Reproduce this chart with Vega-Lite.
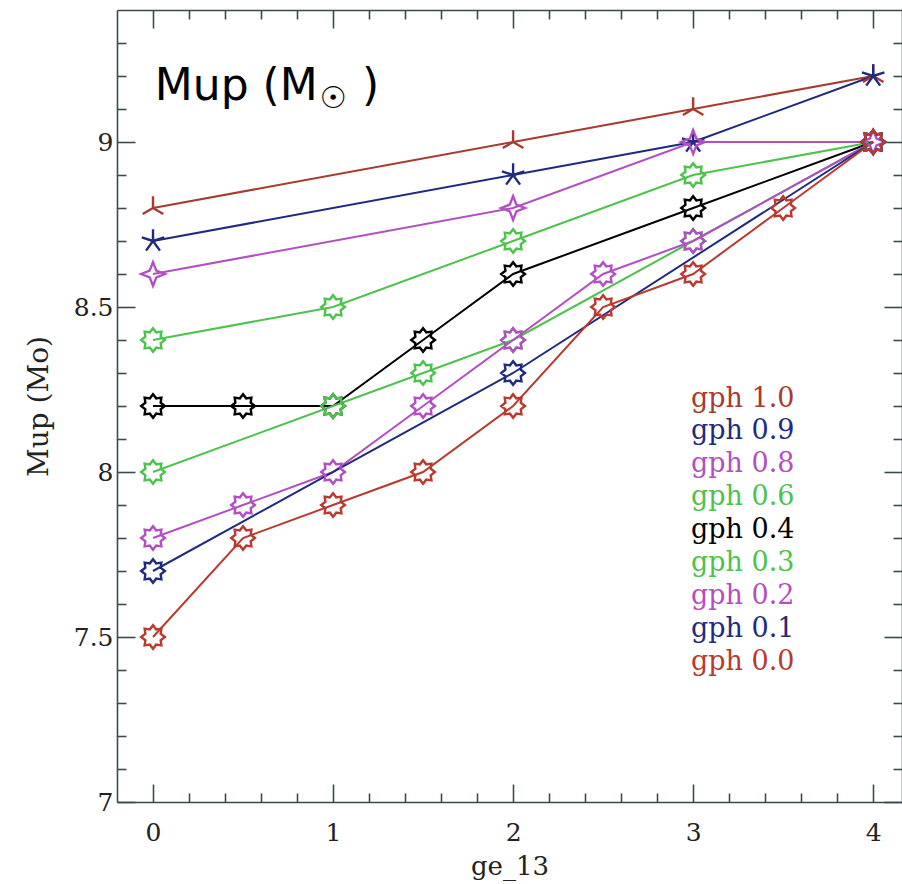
{
  "$schema": "https://vega.github.io/schema/vega-lite/v6.json",
  "width": 785,
  "height": 792,
  "autosize": "none",
  "padding": {"left": 117, "top": 10, "right": 0, "bottom": 82},
  "background": "white",
  "config": {
    "view": {"stroke": null},
    "axis": {
      "domainColor": "#3a4a4f",
      "domainWidth": 1.6,
      "tickColor": "#3a4a4f",
      "tickWidth": 1.6,
      "grid": false,
      "labelFont": "DejaVu Serif",
      "labelFontSize": 25,
      "labelColor": "#222222",
      "titleFont": "DejaVu Serif",
      "titleFontSize": 26,
      "titleFontWeight": "normal",
      "titleColor": "#222222"
    }
  },
  "datasets": {
    "runs": [
      {"gph": "1.0", "ge13": 0, "mup": 8.8},
      {"gph": "1.0", "ge13": 2, "mup": 9.0},
      {"gph": "1.0", "ge13": 3, "mup": 9.1},
      {"gph": "1.0", "ge13": 4, "mup": 9.2},
      {"gph": "0.9", "ge13": 0, "mup": 8.7},
      {"gph": "0.9", "ge13": 2, "mup": 8.9},
      {"gph": "0.9", "ge13": 3, "mup": 9.0},
      {"gph": "0.9", "ge13": 4, "mup": 9.2},
      {"gph": "0.8", "ge13": 0, "mup": 8.6},
      {"gph": "0.8", "ge13": 2, "mup": 8.8},
      {"gph": "0.8", "ge13": 3, "mup": 9.0},
      {"gph": "0.8", "ge13": 4, "mup": 9.0},
      {"gph": "0.6", "ge13": 0, "mup": 8.4},
      {"gph": "0.6", "ge13": 1, "mup": 8.5},
      {"gph": "0.6", "ge13": 2, "mup": 8.7},
      {"gph": "0.6", "ge13": 3, "mup": 8.9},
      {"gph": "0.6", "ge13": 4, "mup": 9.0},
      {"gph": "0.4", "ge13": 0, "mup": 8.2},
      {"gph": "0.4", "ge13": 0.5, "mup": 8.2},
      {"gph": "0.4", "ge13": 1, "mup": 8.2},
      {"gph": "0.4", "ge13": 1.5, "mup": 8.4},
      {"gph": "0.4", "ge13": 2, "mup": 8.6},
      {"gph": "0.4", "ge13": 3, "mup": 8.8},
      {"gph": "0.4", "ge13": 4, "mup": 9.0},
      {"gph": "0.3", "ge13": 0, "mup": 8.0},
      {"gph": "0.3", "ge13": 1, "mup": 8.2},
      {"gph": "0.3", "ge13": 1.5, "mup": 8.3},
      {"gph": "0.3", "ge13": 2, "mup": 8.4},
      {"gph": "0.3", "ge13": 3, "mup": 8.7},
      {"gph": "0.3", "ge13": 4, "mup": 9.0},
      {"gph": "0.2", "ge13": 0, "mup": 7.8},
      {"gph": "0.2", "ge13": 0.5, "mup": 7.9},
      {"gph": "0.2", "ge13": 1, "mup": 8.0},
      {"gph": "0.2", "ge13": 1.5, "mup": 8.2},
      {"gph": "0.2", "ge13": 2, "mup": 8.4},
      {"gph": "0.2", "ge13": 2.5, "mup": 8.6},
      {"gph": "0.2", "ge13": 3, "mup": 8.7},
      {"gph": "0.2", "ge13": 4, "mup": 9.0},
      {"gph": "0.1", "ge13": 0, "mup": 7.7},
      {"gph": "0.1", "ge13": 2, "mup": 8.3},
      {"gph": "0.1", "ge13": 4, "mup": 9.0},
      {"gph": "0.0", "ge13": 0, "mup": 7.5},
      {"gph": "0.0", "ge13": 0.5, "mup": 7.8},
      {"gph": "0.0", "ge13": 1, "mup": 7.9},
      {"gph": "0.0", "ge13": 1.5, "mup": 8.0},
      {"gph": "0.0", "ge13": 2, "mup": 8.2},
      {"gph": "0.0", "ge13": 2.5, "mup": 8.5},
      {"gph": "0.0", "ge13": 3, "mup": 8.6},
      {"gph": "0.0", "ge13": 3.5, "mup": 8.8},
      {"gph": "0.0", "ge13": 4, "mup": 9.0}
    ],
    "heading": [{"part": "title"}]
  },
  "resolve": {"axis": {"x": "independent", "y": "independent"}},
  "layer": [
    {
      "data": {"name": "runs"},
      "mark": {"type": "line", "strokeWidth": 2},
      "encoding": {
        "x": {
          "field": "ge13",
          "type": "quantitative",
          "scale": {"domain": [-0.2, 4.16], "nice": false, "zero": false},
          "axis": {
            "orient": "bottom",
            "values": [0, 0.2, 0.4, 0.6, 0.8, 1, 1.2, 1.4, 1.6, 1.8, 2, 2.2, 2.4, 2.6, 2.8, 3, 3.2, 3.4, 3.6, 3.8, 4],
            "format": "~g",
            "labelExpr": "abs(datum.value - round(datum.value)) < 0.001 ? datum.label : ''",
            "tickSize": {"condition": {"test": "abs(datum.value - round(datum.value)) < 0.001", "value": -18}, "value": -9},
            "labelPadding": 36,
            "title": "ge_13",
            "titlePadding": 8
          }
        },
        "y": {
          "field": "mup",
          "type": "quantitative",
          "scale": {"domain": [7, 9.4], "nice": false, "zero": false},
          "axis": {
            "orient": "left",
            "values": [7, 7.1, 7.2, 7.3, 7.4, 7.5, 7.6, 7.7, 7.8, 7.9, 8, 8.1, 8.2, 8.3, 8.4, 8.5, 8.6, 8.7, 8.8, 8.9, 9, 9.1, 9.2, 9.3],
            "format": "~g",
            "labelExpr": "abs(datum.value * 2 - round(datum.value * 2)) < 0.001 ? datum.label : ''",
            "tickSize": {"condition": {"test": "abs(datum.value * 2 - round(datum.value * 2)) < 0.001", "value": -18}, "value": -9},
            "labelPadding": 22,
            "title": "Mup (Mo)",
            "titleFontSize": 28,
            "titlePadding": 20
          }
        },
        "color": {
          "field": "gph",
          "type": "nominal",
          "scale": {
            "domain": ["1.0", "0.9", "0.8", "0.6", "0.4", "0.3", "0.2", "0.1", "0.0"],
            "range": ["#a93a2f", "#1f2a80", "#b24fc2", "#4dc24d", "#000000", "#4dc24d", "#b24fc2", "#1f2a80", "#b83a30"]
          },
          "legend": {
            "orient": "none",
            "legendX": 547,
            "legendY": 375,
            "title": null,
            "padding": 0,
            "labelFont": "DejaVu Serif",
            "labelFontSize": 27,
            "labelExpr": "'gph ' + datum.label",
            "labelOffset": 0,
            "symbolSize": 0,
            "symbolOpacity": 0,
            "symbolStrokeWidth": 0,
            "rowPadding": 4.9,
            "encode": {"labels": {"update": {"fill": {"scale": "color", "field": "value"}}}}
          }
        }
      }
    },
    {
      "data": {"name": "runs"},
      "mark": {"type": "point", "filled": false, "strokeWidth": 2.4, "size": 560, "opacity": 1},
      "encoding": {
        "x": {
          "field": "ge13",
          "type": "quantitative",
          "axis": {
            "orient": "top",
            "values": [0, 0.2, 0.4, 0.6, 0.8, 1, 1.2, 1.4, 1.6, 1.8, 2, 2.2, 2.4, 2.6, 2.8, 3, 3.2, 3.4, 3.6, 3.8, 4],
            "labels": false,
            "title": null,
            "tickSize": {"condition": {"test": "abs(datum.value - round(datum.value)) < 0.001", "value": -18}, "value": -9}
          }
        },
        "y": {
          "field": "mup",
          "type": "quantitative",
          "axis": {
            "orient": "right",
            "values": [7, 7.1, 7.2, 7.3, 7.4, 7.5, 7.6, 7.7, 7.8, 7.9, 8, 8.1, 8.2, 8.3, 8.4, 8.5, 8.6, 8.7, 8.8, 8.9, 9, 9.1, 9.2, 9.3],
            "labels": false,
            "title": null,
            "tickSize": {"condition": {"test": "abs(datum.value * 2 - round(datum.value * 2)) < 0.001", "value": -18}, "value": -9}
          }
        },
        "color": {"field": "gph", "type": "nominal"},
        "shape": {
          "field": "gph",
          "type": "nominal",
          "scale": {
            "domain": ["1.0", "0.9", "0.8", "0.6", "0.4", "0.3", "0.2", "0.1", "0.0"],
            "range": [
              "M0,0L0,-1M0,0L-0.87,0.5M0,0L0.87,0.5",
              "M0,0L0,-1M0,0L0.95,-0.31M0,0L0.59,0.81M0,0L-0.59,0.81M0,0L-0.95,-0.31",
              "M0,-1L0.28,-0.28L1,0L0.28,0.28L0,1L-0.28,0.28L-1,0L-0.28,-0.28Z",
              "M0,-1L0.268,-0.647L0.707,-0.707L0.647,-0.268L1,0L0.647,0.268L0.707,0.707L0.268,0.647L0,1L-0.268,0.647L-0.707,0.707L-0.647,0.268L-1,0L-0.647,-0.268L-0.707,-0.707L-0.268,-0.647Z",
              "M0,-1L0.268,-0.647L0.707,-0.707L0.647,-0.268L1,0L0.647,0.268L0.707,0.707L0.268,0.647L0,1L-0.268,0.647L-0.707,0.707L-0.647,0.268L-1,0L-0.647,-0.268L-0.707,-0.707L-0.268,-0.647Z",
              "M0,-1L0.268,-0.647L0.707,-0.707L0.647,-0.268L1,0L0.647,0.268L0.707,0.707L0.268,0.647L0,1L-0.268,0.647L-0.707,0.707L-0.647,0.268L-1,0L-0.647,-0.268L-0.707,-0.707L-0.268,-0.647Z",
              "M0,-1L0.268,-0.647L0.707,-0.707L0.647,-0.268L1,0L0.647,0.268L0.707,0.707L0.268,0.647L0,1L-0.268,0.647L-0.707,0.707L-0.647,0.268L-1,0L-0.647,-0.268L-0.707,-0.707L-0.268,-0.647Z",
              "M0,-1L0.268,-0.647L0.707,-0.707L0.647,-0.268L1,0L0.647,0.268L0.707,0.707L0.268,0.647L0,1L-0.268,0.647L-0.707,0.707L-0.647,0.268L-1,0L-0.647,-0.268L-0.707,-0.707L-0.268,-0.647Z",
              "M0,-1L0.268,-0.647L0.707,-0.707L0.647,-0.268L1,0L0.647,0.268L0.707,0.707L0.268,0.647L0,1L-0.268,0.647L-0.707,0.707L-0.647,0.268L-1,0L-0.647,-0.268L-0.707,-0.707L-0.268,-0.647Z"
            ]
          },
          "legend": null
        }
      }
    },
    {
      "data": {"name": "heading"},
      "mark": {"type": "text", "text": "Mup (M", "font": "DejaVu Sans", "fontSize": 44, "fontWeight": 500, "align": "left", "baseline": "alphabetic", "color": "#000000"},
      "encoding": {
        "x": {"datum": 0.01, "type": "quantitative", "axis": null},
        "y": {"datum": 9.127, "type": "quantitative", "axis": null}
      }
    },
    {
      "data": {"name": "heading"},
      "mark": {"type": "text", "text": "☉", "font": "DejaVu Sans", "fontSize": 30, "align": "center", "baseline": "middle", "color": "#000000"},
      "encoding": {
        "x": {"datum": 1.0, "type": "quantitative", "axis": null},
        "y": {"datum": 9.13, "type": "quantitative", "axis": null}
      }
    },
    {
      "data": {"name": "heading"},
      "mark": {"type": "text", "text": ")", "font": "DejaVu Sans", "fontSize": 44, "fontWeight": 500, "align": "left", "baseline": "alphabetic", "color": "#000000"},
      "encoding": {
        "x": {"datum": 1.161, "type": "quantitative", "axis": null},
        "y": {"datum": 9.127, "type": "quantitative", "axis": null}
      }
    }
  ]
}
